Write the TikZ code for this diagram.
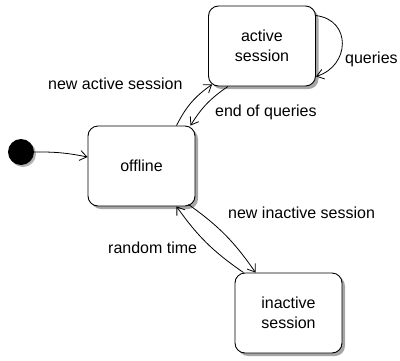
\documentclass[tikz,border=0pt]{standalone}
\usepackage{fontspec}
\setmainfont{Liberation Sans}
\usetikzlibrary{arrows.meta,shadows}
\begin{document}
\begin{tikzpicture}[x=1pt,y=-1pt,
  every node/.style={font=\fontsize{16}{20}\selectfont},
  state/.style={draw, line width=0.9pt, rounded corners=10pt, fill=white,
    minimum width=107pt, minimum height=80pt, align=center, inner sep=0pt,
    drop shadow={shadow xshift=3pt, shadow yshift=-3pt, fill=black!35, opacity=1}},
  arr/.style={draw, line width=0.8pt, -{Straight Barb[length=7pt,width=10pt,line width=0.8pt]}},
  lbl/.style={anchor=base west, inner sep=0pt}]
\useasboundingbox (0,0) rectangle (400,360);
\node[state] (active) at (262,46) {active\\session};
\node[state] (offline) at (141.5,166) {offline};
\node[state] (inactive) at (288.5,313) {inactive\\session};
\node[circle, fill=black, minimum size=26pt, inner sep=0pt,
  drop shadow={shadow xshift=2pt, shadow yshift=-2pt, fill=black!30, opacity=1}] (init) at (21,152) {};
\draw[arr] (init.east) to[bend left=6] ([yshift=9pt]offline.west);
\draw[arr] ([xshift=35pt]offline.north) to[bend left=14] ([xshift=4pt,yshift=2pt]active.south west);
\draw[arr] ([xshift=-34pt]active.south) to[bend right=12] ([xshift=49pt]offline.north);
\draw[arr] ([yshift=-10pt]active.north east) .. controls (352,20) and (350,66) .. ([yshift=10pt]active.south east);
\draw[arr] ([xshift=-7pt,yshift=2pt]offline.south east) to[bend left=10] ([xshift=-33pt]inactive.north);
\draw[arr] ([xshift=-45pt]inactive.north) to[bend left=10] ([xshift=35pt]offline.south);
\node[lbl] (l1) at (48,89) {new active session};
\node[lbl] (l2) at (215,116) {end of queries};
\node[lbl] (l3) at (345,63) {queries};
\node[lbl] (l4) at (228,218) {new inactive session};
\node[lbl] (l5) at (108,253) {random time};
\end{tikzpicture}
\end{document}
